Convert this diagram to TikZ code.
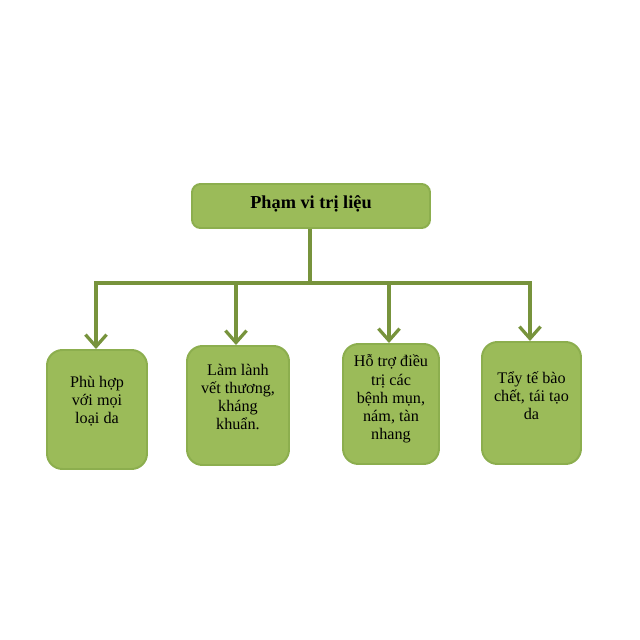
\documentclass[tikz,border=0pt]{standalone}
\usepackage{fontspec}
\setmainfont{Liberation Serif}
\usetikzlibrary{arrows.meta}
\definecolor{boxfill}{RGB}{155,187,89}
\definecolor{boxline}{RGB}{140,174,78}
\definecolor{conn}{RGB}{119,147,60}
\tikzset{
  px/.style={x=0.025cm,y=-0.025cm},
  box/.style={draw=boxline, line width=1.4pt, fill=boxfill, rounded corners=11pt, inner sep=0pt},
  boxtxt/.style={align=center, font=\fontsize{11.5}{12.9}\selectfont, inner sep=0pt},
  conline/.style={draw=conn, line width=2.3pt},
  conarrow/.style={conline, -{Straight Barb[length=8.5pt,width=15pt,line width=2.3pt]}}
}
\begin{document}
\begin{tikzpicture}[px]
\useasboundingbox (0,0) rectangle (640,640);
\fill[white] (0,0) rectangle (640,640);
% boxes
\node[box, rounded corners=6pt, minimum width=238*0.025cm, minimum height=44*0.025cm] (title) at (311,206) {};
\node[font=\fontsize{13}{14}\selectfont\bfseries, inner sep=0pt] (titletxt) at (311,204) {Phạm vi trị liệu};
\node[box, minimum width=100*0.025cm, minimum height=119*0.025cm] (b1) at (97,409.5) {};
\node[box, minimum width=102*0.025cm, minimum height=119*0.025cm] (b2) at (238,405.5) {};
\node[box, minimum width=96*0.025cm, minimum height=120*0.025cm] (b3) at (391,404) {};
\node[box, minimum width=99*0.025cm, minimum height=122*0.025cm] (b4) at (531.5,403) {};
\node[boxtxt] (t1) at (97,401) {Phù hợp\\với mọi\\loại da};
\node[boxtxt] (t2) at (238,397) {Làm lành\\vết thương,\\kháng\\khuẩn.};
\node[boxtxt] (t3) at (391,399) {Hỗ trợ điều\\trị các\\bệnh mụn,\\nám, tàn\\nhang};
\node[boxtxt] (t4) at (531.5,396) {Tẩy tế bào\\chết, tái tạo\\da};
% bus
\coordinate (j0) at (310,283);
\coordinate (j1) at (96,283);
\coordinate (j2) at (236,283);
\coordinate (j3) at (389,283);
\coordinate (j4) at (530,283);
\draw[conline] (j0 |- title.south) -- (j0);
\draw[conline, line cap=rect] (j1) -- (j4);
\draw[conarrow] (j1) -- (j1 |- b1.north);
\draw[conarrow] (j2) -- (j2 |- b2.north);
\draw[conarrow] (j3) -- (j3 |- b3.north);
\draw[conarrow] (j4) -- (j4 |- b4.north);
\end{tikzpicture}
\end{document}
